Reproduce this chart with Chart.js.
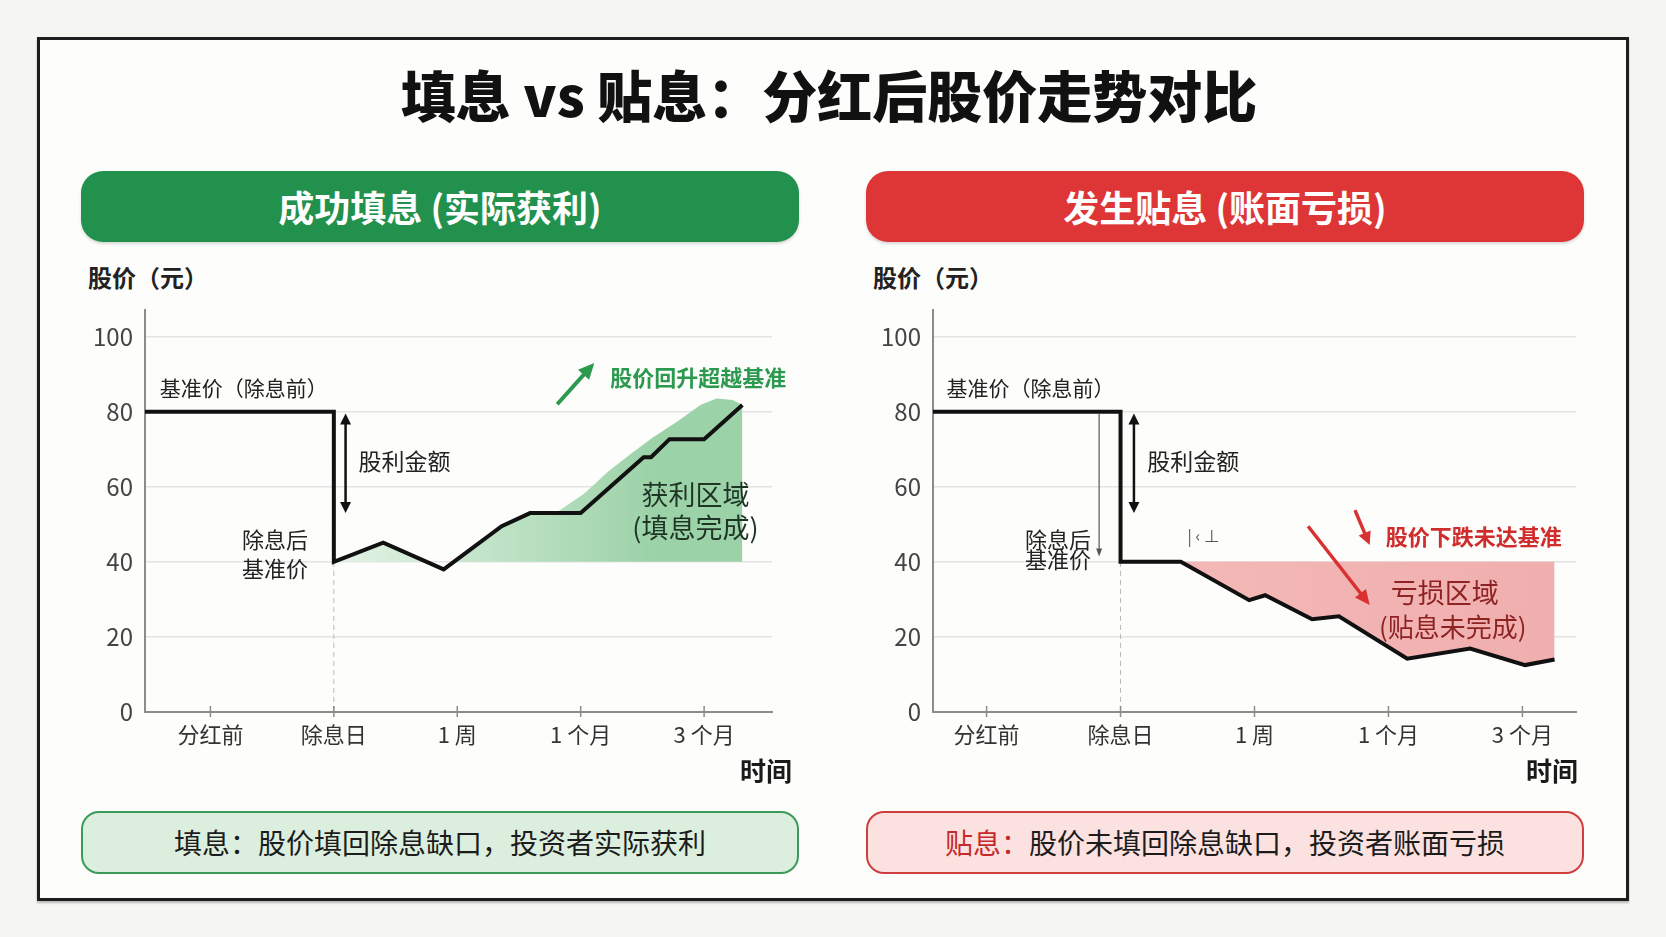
<!DOCTYPE html>
<html lang="zh-CN">
<head>
<meta charset="utf-8">
<title>填息 vs 贴息：分红后股价走势对比</title>
<script src="https://cdn.jsdelivr.net/npm/chart.js@4.4.1/dist/chart.umd.min.js"></script>
<style>
  html, body { margin: 0; padding: 0; }
  body {
    width: 1666px; height: 937px; position: relative; overflow: hidden;
    background: #f5f5f2;
    font-family: "Noto Sans CJK SC", "Noto Sans", sans-serif;
  }
  .frame {
    position: absolute; left: 37px; top: 37px; width: 1586px; height: 858px;
    border: 3px solid #1e1e1e; background: #fdfdfb;
    box-shadow: 0 2px 2px rgba(0,0,0,0.25);
  }
  .title {
    position: absolute; left: 0; top: 62px; width: 1658px; text-align: center;
    font-size: 55px; line-height: 62px; font-weight: 900; color: #111;
  }
  .head {
    position: absolute; top: 171px; width: 718px; height: 71px; border-radius: 22px;
    color: #fff; font-size: 36px; font-weight: 700; line-height: 71px; text-align: center;
    box-shadow: 0 2px 3px rgba(0,0,0,0.15);
  }
  .head.green { left: 81px; background: #22914d; }
  .head.red { left: 866px; background: #de3636; }
  .unit {
    position: absolute; top: 262px; font-size: 24px; line-height: 30px; font-weight: 700; color: #222;
  }
  .axis-name {
    position: absolute; top: 755px; font-size: 26px; line-height: 30px; font-weight: 700; color: #1a1a1a;
    text-align: right; width: 80px;
  }
  .note {
    position: absolute; top: 811px; width: 718px; height: 63px; box-sizing: border-box;
    border-radius: 18px; font-size: 28px; line-height: 58px; text-align: center; color: #1c1c1c;
  }
  .note.green { left: 81px; background: #dcefdf; border: 2.5px solid #3c9a58; }
  .note.red { left: 866px; background: #fbe1e0; border: 2.5px solid #cf3e3e; }
  .note .tag { color: #c62a2a; }
  canvas { position: absolute; }
</style>
</head>
<body>
<div class="frame"></div>
<div class="title">填息 vs 贴息：分红后股价走势对比</div>
<div class="head green">成功填息 (实际获利)</div>
<div class="head red">发生贴息 (账面亏损)</div>
<div class="unit" style="left:88px">股价（元）</div>
<div class="unit" style="left:873px">股价（元）</div>
<canvas id="fillChart" width="719" height="506" style="left:81px; top:284px"></canvas>
<canvas id="gapChart" width="719" height="506" style="left:866px; top:284px"></canvas>
<div class="axis-name" style="left:712px">时间</div>
<div class="axis-name" style="left:1498px">时间</div>
<div class="note green">填息：股价填回除息缺口，投资者实际获利</div>
<div class="note red"><span class="tag">贴息：</span>股价未填回除息缺口，投资者账面亏损</div>

<script>
const FONT = '"Noto Sans CJK SC", "Noto Sans", sans-serif';

// shared axes
const xLabels = ["分红前", "除息日", "1 周", "1 个月", "3 个月"];
const xTickValues = [0, 1, 2, 3, 4];
const yTickValues = [0, 20, 40, 60, 80, 100];

// left: 成功填息
const fillLineX = [-0.53, 1, 1, 1.4, 1.89, 2.36, 2.59, 3.0, 3.51, 3.57, 3.72, 4.0, 4.31];
const fillLineY = [80, 80, 40, 45.1, 38, 49.5, 53, 53, 67.9, 67.9, 72.7, 72.7, 81.8];
const profitAreaX = [1, 1.4, 1.75, 1.97, 2.36, 2.59, 2.81, 3.03, 3.22, 3.41, 3.59, 3.78, 3.97, 4.1, 4.23, 4.31];
const profitAreaY = [40, 45.1, 40, 40, 49.5, 53, 53.3, 58.2, 64, 68.9, 73.3, 77.3, 81.8, 83.5, 83.1, 81.8];

// right: 发生贴息
const gapLineX = [-0.4, 1, 1, 1.45, 1.96, 2.08, 2.43, 2.63, 3.14, 3.61, 4.02, 4.24];
const gapLineY = [80, 80, 40, 40, 29.8, 31.1, 24.7, 25.5, 14.2, 16.9, 12.5, 14.0];
const lossAreaX = gapLineX.slice(3);
const lossAreaY = gapLineY.slice(3);

const basePrice = 80;
const exPrice = 40;

function toXY(xs, ys) {
  return xs.map((x, i) => ({ x: x, y: ys[i] }));
}

function drawArrow(ctx, x1, y1, x2, y2, o) {
  const ang = Math.atan2(y2 - y1, x2 - x1);
  const hl = o.head || 12, hw = (o.headW || hl) / 2;
  ctx.save();
  ctx.strokeStyle = o.color;
  ctx.fillStyle = o.color;
  ctx.lineWidth = o.width;
  const head = (px, py, a) => {
    ctx.beginPath();
    ctx.moveTo(px, py);
    ctx.lineTo(px - hl * Math.cos(a) + hw * Math.sin(a), py - hl * Math.sin(a) - hw * Math.cos(a));
    ctx.lineTo(px - hl * Math.cos(a) - hw * Math.sin(a), py - hl * Math.sin(a) + hw * Math.cos(a));
    ctx.closePath();
    ctx.fill();
  };
  const sx = o.both ? x1 + (hl - 2) * Math.cos(ang) : x1;
  const sy = o.both ? y1 + (hl - 2) * Math.sin(ang) : y1;
  ctx.beginPath();
  ctx.moveTo(sx, sy);
  ctx.lineTo(x2 - (hl - 2) * Math.cos(ang), y2 - (hl - 2) * Math.sin(ang));
  ctx.stroke();
  head(x2, y2, ang);
  if (o.both) head(x1, y1, ang + Math.PI);
  ctx.restore();
}

// annotations, placed in data coordinates
function notesPlugin(notes) {
  return {
    id: 'notes',
    beforeDatasetsDraw(chart) {
      const { ctx, scales: { x, y } } = chart;
      ctx.save();
      ctx.strokeStyle = '#b8b8b8';
      ctx.lineWidth = 1;
      ctx.setLineDash([5, 4]);
      ctx.beginPath();
      ctx.moveTo(x.getPixelForValue(1), y.getPixelForValue(exPrice));
      ctx.lineTo(x.getPixelForValue(1), y.getPixelForValue(0));
      ctx.stroke();
      ctx.restore();
    },
    afterDatasetsDraw(chart) {
      const { ctx, scales: { x, y } } = chart;
      // small tick marks across the time axis
      ctx.save();
      ctx.strokeStyle = '#8c8c8c';
      ctx.lineWidth = 1.5;
      xTickValues.forEach(v => {
        const px = x.getPixelForValue(v);
        ctx.beginPath();
        ctx.moveTo(px, y.bottom + 5);
        ctx.lineTo(px, y.bottom - 6);
        ctx.stroke();
      });
      ctx.restore();

      notes.arrows.forEach(a => {
        drawArrow(ctx, x.getPixelForValue(a.x1), y.getPixelForValue(a.y1),
          x.getPixelForValue(a.x2), y.getPixelForValue(a.y2), a);
      });
      ctx.save();
      ctx.textBaseline = 'middle';
      notes.texts.forEach(t => {
        ctx.font = (t.weight || 400) + ' ' + t.size + 'px ' + FONT;
        ctx.fillStyle = t.color || '#222';
        ctx.textAlign = t.align || 'left';
        ctx.fillText(t.text, x.getPixelForValue(t.x), y.getPixelForValue(t.y));
      });
      ctx.restore();
    }
  };
}

// horizontal colour ramp across the shaded area
function areaFill(chart, fromX, toX, c1, c2) {
  const { ctx, chartArea, scales } = chart;
  if (!chartArea) return c2;
  const g = ctx.createLinearGradient(scales.x.getPixelForValue(fromX), 0, scales.x.getPixelForValue(toX), 0);
  g.addColorStop(0, c1);
  g.addColorStop(1, c2);
  return g;
}

function makeChart(id, cfg) {
  return new Chart(document.getElementById(id), {
    type: 'line',
    data: {
      datasets: [
        {
          data: toXY(cfg.lineX, cfg.lineY),
          borderColor: '#111',
          borderWidth: 4,
          borderJoinStyle: 'miter',
          pointRadius: 0,
          fill: false,
          tension: 0,
          order: 0
        },
        {
          data: toXY(cfg.areaX, cfg.areaY),
          borderWidth: 0,
          pointRadius: 0,
          tension: 0,
          fill: { value: exPrice },
          backgroundColor: c => areaFill(c.chart, cfg.rampFrom, cfg.rampTo, cfg.areaStart, cfg.areaEnd),
          order: 1
        }
      ]
    },
    options: {
      responsive: false,
      animation: false,
      layout: { padding: { top: 0, right: cfg.padRight, left: 0, bottom: 0 } },
      plugins: { legend: { display: false }, tooltip: { enabled: false } },
      scales: {
        x: {
          type: 'linear',
          min: cfg.xMin,
          max: cfg.xMax,
          afterFit: s => { s.height = 78; },
          afterBuildTicks: s => { s.ticks = xTickValues.map(v => ({ value: v })); },
          grid: { display: false, drawTicks: false },
          border: { display: true, color: '#8c8c8c', width: 2 },
          ticks: {
            padding: 9,
            color: '#333',
            maxRotation: 0,
            autoSkip: false,
            font: { family: FONT, size: 22 },
            callback: (v, i) => xLabels[i]
          }
        },
        y: {
          min: 0,
          max: 107,
          afterFit: s => { s.width = cfg.yWidth; },
          afterBuildTicks: s => { s.ticks = yTickValues.map(v => ({ value: v })); },
          grid: { color: '#e3e3e3', lineWidth: 1.5, drawTicks: false },
          border: { color: '#8c8c8c', width: 2 },
          ticks: { padding: 12, color: '#444', font: { family: FONT, size: 24 } }
        }
      }
    },
    plugins: [notesPlugin(cfg.notes)]
  });
}

makeChart('fillChart', {
  lineX: fillLineX, lineY: fillLineY,
  areaX: profitAreaX, areaY: profitAreaY,
  rampFrom: 1, rampTo: 3.6, areaStart: '#e4f3e6', areaEnd: '#9cd2a8',
  xMin: -0.53, xMax: 4.55, yWidth: 64, padRight: 28,
  notes: {
    texts: [
      { x: -0.41, y: 86.3, text: '基准价（除息前）', size: 21 },
      { x: 1.2, y: 66.8, text: '股利金额', size: 23 },
      { x: 0.79, y: 45.8, text: '除息后', size: 22, align: 'right' },
      { x: 0.79, y: 38.3, text: '基准价', size: 22, align: 'right' },
      { x: 3.93, y: 57.8, text: '获利区域', size: 27, align: 'center', color: '#1f3526' },
      { x: 3.93, y: 49, text: '(填息完成)', size: 27, align: 'center', color: '#1f3526' },
      { x: 3.24, y: 89.2, text: '股价回升超越基准', size: 22, weight: 700, color: '#2b9a4f' }
    ],
    arrows: [
      { x1: 1.095, y1: basePrice - 0.5, x2: 1.095, y2: 53, color: '#111', width: 2.5, head: 11, headW: 11, both: true },
      { x1: 2.81, y1: 82, x2: 3.11, y2: 93, color: '#2b9a4f', width: 4, head: 16, headW: 15 }
    ]
  }
});

makeChart('gapChart', {
  lineX: gapLineX, lineY: gapLineY,
  areaX: lossAreaX, areaY: lossAreaY,
  rampFrom: 1.45, rampTo: 4.24, areaStart: '#f3b8b7', areaEnd: '#f0afae',
  xMin: -0.4, xMax: 4.4, yWidth: 67, padRight: 9,
  notes: {
    texts: [
      { x: -0.3, y: 86.3, text: '基准价（除息前）', size: 21 },
      { x: 1.2, y: 66.8, text: '股利金额', size: 23 },
      { x: 0.78, y: 45.8, text: '除息后', size: 22, align: 'right' },
      { x: 0.78, y: 40.6, text: '基准价', size: 22, align: 'right' },
      { x: 1.5, y: 47, text: '| ‹ ⊥', size: 16, color: '#555' },
      { x: 2.98, y: 46.7, text: '股价下跌未达基准', size: 22, weight: 700, color: '#d02c2c' },
      { x: 3.42, y: 31.7, text: '亏损区域', size: 27, align: 'center', color: '#8e2323' },
      { x: 3.48, y: 22.7, text: '(贴息未完成)', size: 26, align: 'center', color: '#8e2323' }
    ],
    arrows: [
      { x1: 1.1, y1: basePrice - 0.5, x2: 1.1, y2: 53, color: '#111', width: 2.5, head: 11, headW: 11, both: true },
      { x1: 0.84, y1: 79.6, x2: 0.84, y2: 41.4, color: '#555', width: 1.2, head: 8, headW: 6 },
      { x1: 2.75, y1: 53.8, x2: 2.86, y2: 44.5, color: '#d93131', width: 3.5, head: 13, headW: 13 },
      { x1: 2.4, y1: 49.5, x2: 2.86, y2: 28.5, color: '#d93131', width: 3.5, head: 15, headW: 14 }
    ]
  }
});
</script>
</body>
</html>
